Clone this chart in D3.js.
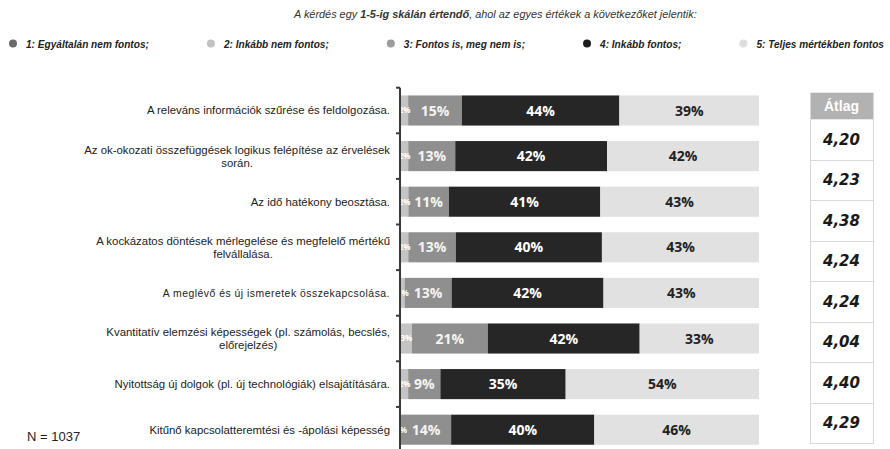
<!DOCTYPE html>
<html>
<head>
<meta charset="utf-8">
<script src="https://cdn.jsdelivr.net/npm/d3@7"></script>
<style>
  body { margin: 0; background: #fff; }
  svg { display: block; }
</style>
</head>
<body>
<svg id="chart" width="890" height="449"></svg>
<script>
// Skills rated on a 1–5 importance scale
const categories = [
  "A releváns információk szűrése és feldolgozása.",
  "Az ok-okozati összefüggések logikus felépítése az érvelések\nsorán.",
  "Az idő hatékony beosztása.",
  "A kockázatos döntések mérlegelése és megfelelő mértékű\nfelvállalása.",
  "A meglévő és új ismeretek összekapcsolása.",
  "Kvantitatív elemzési képességek (pl. számolás, becslés,\nelőrejelzés)",
  "Nyitottság új dolgok (pl. új technológiák) elsajátítására.",
  "Kitűnő kapcsolatteremtési és -ápolási képesség"
];
const seriesNames = [
  "1: Egyáltalán nem fontos;",
  "2: Inkább nem fontos;",
  "3: Fontos is, meg nem is;",
  "4: Inkább fontos;",
  "5: Teljes mértékben fontos"
];
const notImportant    = [0, 0, 0, 0, 0, 0, 0, 0];
const ratherNot       = [2, 2, 2, 2, 1, 3, 2, 0];
const neutral         = [15, 13, 11, 13, 13, 21, 9, 14];
const ratherImportant = [44, 42, 41, 40, 42, 42, 35, 40];
const veryImportant   = [39, 42, 43, 43, 43, 33, 54, 46];
const averages = [4.20, 4.23, 4.38, 4.24, 4.24, 4.04, 4.40, 4.29];

const title = ["A kérdés egy ", "1-5-ig skálán értendő", ", ahol az egyes értékek a következőket jelentik:"];
const sampleNote = "N = 1037";
const avgHeader = "Átlag";

const seriesValues = [notImportant, ratherNot, neutral, ratherImportant, veryImportant];
const keys = seriesNames.map((d, i) => "s" + i);
const rows = categories.map((c, i) => {
  const r = { cat: c };
  keys.forEach((k, j) => r[k] = seriesValues[j][i]);
  return r;
});

const barColors  = ["#686868", "#c4c4c4", "#8f8f8f", "#262626", "#e1e1e1"];
const dotColors  = ["#6a6a6a", "#c2c2c2", "#9c9c9c", "#1c1c1c", "#dedede"];
const labelColor = ["#ffffff", "#ffffff", "#f4f4f4", "#ffffff", "#222222"];

const svg = d3.select("#chart");

// Heading
const t = svg.append("text")
  .attr("x", 294).attr("y", 18)
  .style("font-family", "'Liberation Sans', Arial, sans-serif")
  .style("font-size", "10.9px").style("font-style", "italic")
  .attr("fill", "#333");
title.forEach((s, i) => t.append("tspan").text(s).style("font-weight", i === 1 ? "bold" : "normal"));

// Legend (condensed bold italic labels)
const legend = svg.append("g");
const squeeze = 0.92;
let lx = 13;
seriesNames.forEach((name, i) => {
  legend.append("circle").attr("cx", lx).attr("cy", 43.5).attr("r", 4).attr("fill", dotColors[i]);
  const txt = legend.append("text")
    .attr("transform", `translate(${lx + 13},47.5) scale(${squeeze},1)`)
    .style("font-family", "'Liberation Sans', Arial, sans-serif")
    .style("font-size", "11px").style("font-weight", "bold").style("font-style", "italic")
    .attr("fill", "#222")
    .text(name);
  lx = lx + 13 + txt.node().getComputedTextLength() * squeeze + 62;
});

// Scales
const y = d3.scaleBand().domain(categories).range([87.7, 452.5]).paddingInner(0.34).paddingOuter(0.17);
const x = d3.scaleLinear().domain([0, 1]).range([401, 759]);

const stack = d3.stack().keys(keys).offset(d3.stackOffsetExpand);
const stacked = stack(rows);

svg.append("clipPath").attr("id", "plotClip")
  .append("rect").attr("x", 401).attr("y", 80).attr("width", 400).attr("height", 380);

const plot = svg.append("g").attr("clip-path", "url(#plotClip)");

const layers = plot.selectAll("g.layer").data(stacked).join("g").attr("class", "layer")
  .attr("fill", (d, i) => barColors[i]);

layers.selectAll("rect").data(d => d).join("rect")
  .attr("x", d => x(d[0]))
  .attr("width", d => x(d[1]) - x(d[0]))
  .attr("y", d => y(d.data.cat))
  .attr("height", y.bandwidth());

// Segment labels
stacked.forEach((layer, i) => {
  if (i === 0) return;
  plot.append("g").selectAll("text").data(layer).join("text")
    .attr("x", d => (x(d[0]) + x(d[1])) / 2)
    .attr("y", d => y(d.data.cat) + y.bandwidth() / 2)
    .attr("dy", "0.36em")
    .attr("text-anchor", "middle")
    .style("font-family", "'Open Sans', sans-serif")
    .style("font-weight", "bold")
    .style("font-size", i === 1 ? "8px" : "14px")
    .attr("fill", labelColor[i])
    .text(d => d.data[keys[i]] + "%");
});

// Category axis
const axisG = svg.append("g");
axisG.append("line")
  .attr("x1", 400).attr("x2", 400).attr("y1", y.range()[0]).attr("y2", 449)
  .attr("stroke", "#3a3a3a").attr("stroke-width", 2);
d3.range(categories.length + 1).forEach(i => {
  const ty = y.range()[0] + i * y.step();
  axisG.append("line").attr("x1", 396).attr("x2", 400).attr("y1", ty).attr("y2", ty)
    .attr("stroke", "#3a3a3a").attr("stroke-width", 2);
});

// Category labels, right aligned; wrapped lines centred under each other
categories.forEach((c, i) => {
  const lines = c.split("\n");
  const cy = y(c) + y.bandwidth() / 2;
  const lh = 13;
  const g = svg.append("g");
  const special = i === 4;
  const texts = lines.map((ln, k) => g.append("text")
    .attr("y", cy + (k - (lines.length - 1) / 2) * lh)
    .attr("dy", "0.35em")
    .style("font-family", "'Liberation Sans', Arial, sans-serif")
    .style("font-size", special ? "10.4px" : "11.4px")
    .style("letter-spacing", special ? "0.5px" : "0px")
    .attr("fill", "#222")
    .text(ln));
  const maxW = d3.max(texts, tx => tx.node().getComputedTextLength());
  const center = 390 - maxW / 2;
  texts.forEach(tx => tx.attr("x", center).attr("text-anchor", "middle"));
});

svg.append("text")
  .attr("x", 27).attr("y", 441)
  .style("font-family", "'Liberation Sans', Arial, sans-serif")
  .style("font-size", "13px").attr("fill", "#222")
  .text(sampleNote);

// Average table
const tb = { x0: 810, x1: 873, top: 92.7, head: 119.3, bottom: 443.3 };
const ty = d3.scaleBand().domain(categories).range([tb.head, tb.bottom]);
const fmt = v => d3.format(".2f")(v).replace(".", ",");
const table = svg.append("g");
table.append("rect").attr("x", tb.x0).attr("y", tb.top).attr("width", tb.x1 - tb.x0).attr("height", tb.head - tb.top)
  .attr("fill", "#b2b2b2");
table.append("text").attr("x", (tb.x0 + tb.x1) / 2).attr("y", (tb.top + tb.head) / 2).attr("dy", "0.36em")
  .attr("text-anchor", "middle")
  .style("font-family", "'Liberation Sans', Arial, sans-serif")
  .style("font-size", "14px").style("font-weight", "bold").attr("fill", "#fff")
  .text(avgHeader);
[tb.x0, tb.x1].forEach(xx => table.append("line").attr("x1", xx + 0.5).attr("x2", xx + 0.5)
  .attr("y1", tb.top).attr("y2", tb.bottom).attr("stroke", "#d9d9d9"));
categories.forEach(c => {
  const yy = ty(c) + ty.bandwidth();
  table.append("line").attr("x1", tb.x0).attr("x2", tb.x1 + 1).attr("y1", Math.round(yy) + 0.5).attr("y2", Math.round(yy) + 0.5)
    .attr("stroke", "#d9d9d9");
});
table.selectAll("text.avg").data(averages).join("text").attr("class", "avg")
  .attr("x", (tb.x0 + tb.x1) / 2)
  .attr("y", (d, i) => ty(categories[i]) + ty.bandwidth() / 2)
  .attr("dy", "0.36em")
  .attr("text-anchor", "middle")
  .style("font-family", "'DejaVu Sans', sans-serif")
  .style("font-size", "15px").style("font-weight", "bold").style("font-style", "italic")
  .attr("fill", "#1a1a1a")
  .text(fmt);
</script>
</body>
</html>
